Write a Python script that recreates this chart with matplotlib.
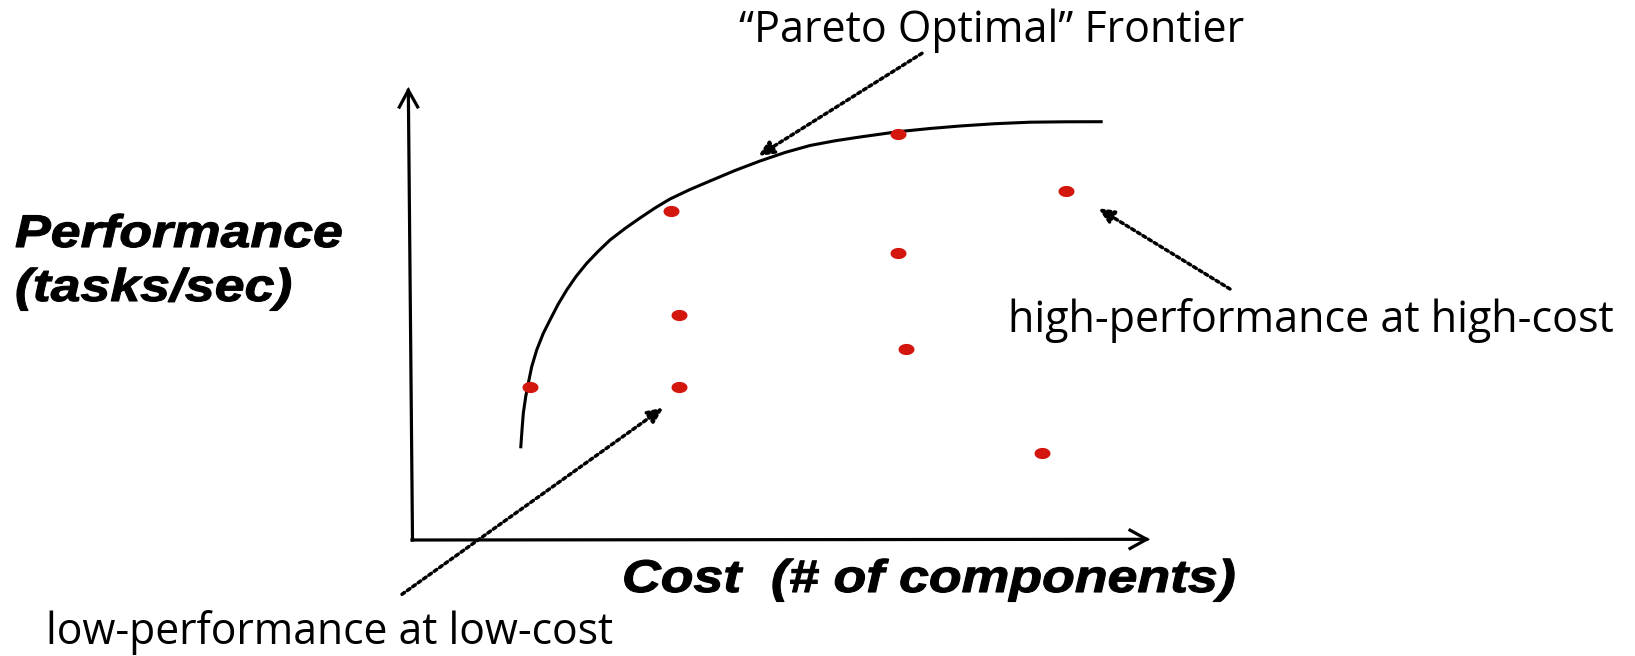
import matplotlib
matplotlib.use('Agg')
import matplotlib.pyplot as plt
from matplotlib.path import Path
from matplotlib.patheffects import AbstractPathEffect
from matplotlib.transforms import Affine2D
import numpy as np

# ---- data (cost units, performance units) ----
design_cost = [1.18, 2.59, 2.67, 2.67, 4.86, 4.86, 4.94, 6.54, 6.30]
design_perf = [1.53, 3.29, 2.25, 1.53, 4.06, 2.87, 1.91, 3.49, 0.87]

frontier_cost = [1.087, 1.100, 1.113, 1.137, 1.163, 1.197, 1.247, 1.313, 1.380, 1.460,
                 1.547, 1.640, 1.747, 1.860, 1.980, 2.130, 2.280, 2.430, 2.580, 2.780,
                 2.980, 3.230, 3.480, 3.730, 3.980, 4.230, 4.480, 4.860, 5.180, 5.480,
                 5.830, 6.180, 6.530, 6.907]
frontier_perf = [0.917, 1.100, 1.267, 1.433, 1.567, 1.733, 1.900, 2.067, 2.200, 2.355,
                 2.500, 2.635, 2.767, 2.885, 3.000, 3.115, 3.220, 3.320, 3.410, 3.505,
                 3.590, 3.695, 3.790, 3.875, 3.945, 3.992, 4.030, 4.083, 4.115, 4.140,
                 4.163, 4.178, 4.182, 4.183]

title_text = "\u201cPareto Optimal\u201d Frontier"
high_text = "high-performance at high-cost"
low_text = "low-performance at low-cost"
ylabel_lines = ["Performance", "(tasks/sec)"]
xlabel_text = "Cost  (# of components)"

RED = '#D3170F'
hand_font = ['Open Sans', 'DejaVu Sans']
bold_font = ['Liberation Sans', 'DejaVu Sans']


class HStretch(AbstractPathEffect):
    """Stretch text horizontally about its left baseline origin, with a thin outline."""
    def __init__(self, sx, stroke=0.0):
        super().__init__()
        self._sx = sx
        self._stroke = stroke

    def draw_path(self, renderer, gc, tpath, affine, rgbFace=None):
        tr = Affine2D().scale(self._sx, 1.0) + affine
        gc0 = renderer.new_gc()
        gc0.copy_properties(gc)
        if self._stroke > 0:
            gc0.set_linewidth(self._stroke)
            gc0.set_foreground(rgbFace if rgbFace is not None else 'black')
            gc0.set_joinstyle('round')
        renderer.draw_path(gc0, tpath, tr, rgbFace)
        gc0.restore()


fig = plt.figure(figsize=(16.35, 6.56), dpi=100)
ax = fig.add_axes([0, 0, 1, 1])
ax.set_xlim(-4.12, 12.23)
ax.set_ylim(-1.16, 5.40)
ax.axis('off')

# axes with open arrowheads
axis_arrow = dict(arrowstyle='->,head_length=0.6,head_width=0.33', lw=2.3,
                  color='black', mutation_scale=20, shrinkA=0, shrinkB=0,
                  capstyle='projecting', joinstyle='miter')
ax.annotate('', xy=(-0.037, 4.53), xytext=(0.005, 0.0), arrowprops=axis_arrow)
ax.annotate('', xy=(7.38, 0.007), xytext=(0.0, 0.0), arrowprops=axis_arrow)

# frontier
ax.plot(frontier_cost, frontier_perf, color='black', lw=2.2,
        solid_joinstyle='round', solid_capstyle='butt')

# design points as ellipses
t = np.linspace(0, 2 * np.pi, 64)
ell = Path(np.column_stack([np.cos(t), 0.7 * np.sin(t)]), closed=True)
ax.plot(design_cost, design_perf, linestyle='none', marker=ell,
        markersize=11.5, color=RED, markeredgewidth=0, zorder=5)

# dotted pointer arrows
dot_arrow = dict(arrowstyle='-|>,head_length=0.7,head_width=0.32', lw=2.5,
                 linestyle=(0, (0.9, 1.0)), color='black', mutation_scale=13,
                 shrinkA=0, shrinkB=0)
ax.annotate('', xy=(3.463, 3.84), xytext=(5.10, 4.867), arrowprops=dot_arrow)
ax.annotate('', xy=(6.863, 3.317), xytext=(8.18, 2.51), arrowprops=dot_arrow)
ax.annotate('', xy=(2.513, 1.323), xytext=(-0.10, -0.543), arrowprops=dot_arrow)

# hand-written style annotations
ax.text(5.798, 4.983, title_text, ha='center', va='baseline', fontsize=31,
        family=hand_font)
ax.text(8.987, 2.08, high_text, ha='center', va='baseline', fontsize=31,
        family=hand_font)
ax.text(-0.825, -1.04, low_text, ha='center', va='baseline', fontsize=30.7,
        family=hand_font)

# bold italic axis labels (wide, as in the slide)
stretch = [HStretch(1.17, stroke=0.8)]
ax.text(-3.97, 2.93, ylabel_lines[0], ha='left', va='baseline', fontsize=33,
        family=bold_font, weight='bold', style='italic', path_effects=stretch)
ax.text(-3.97, 2.39, ylabel_lines[1], ha='left', va='baseline', fontsize=33,
        family=bold_font, weight='bold', style='italic', path_effects=stretch)
ax.text(2.10, -0.52, xlabel_text, ha='left', va='baseline', fontsize=33,
        family=bold_font, weight='bold', style='italic', path_effects=stretch)

fig.savefig('out.png', dpi=100)
